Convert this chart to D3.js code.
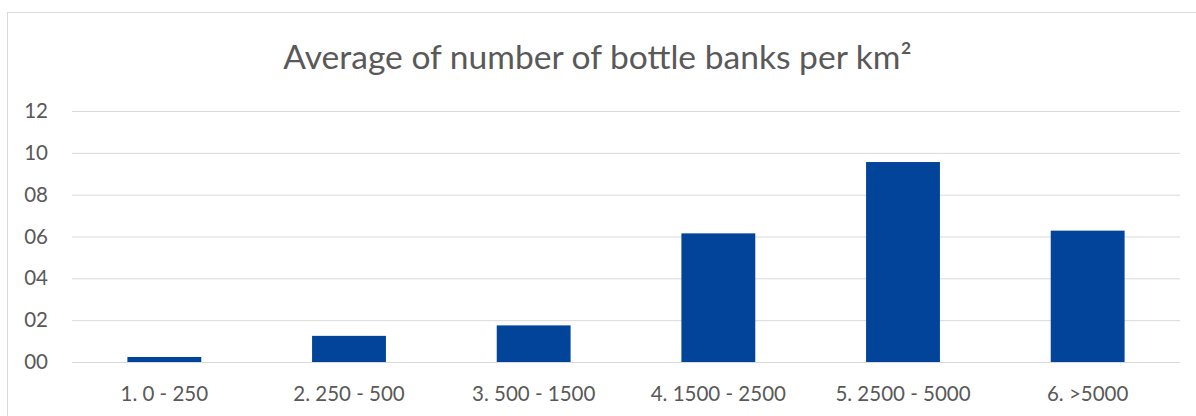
<!DOCTYPE html>
<html>
<head>
<meta charset="utf-8">
<script src="https://cdn.jsdelivr.net/npm/d3@7/dist/d3.min.js"></script>
<style>
  html, body { margin: 0; padding: 0; background: #ffffff; }
  svg { display: block; }
  text { font-family: Lato, "Open Sans", sans-serif; fill: #595959; }
</style>
</head>
<body>
<svg id="chart" width="1196" height="416"></svg>
<script>
const title = "Average of number of bottle banks per km²";
const categories = ["1. 0 - 250", "2. 250 - 500", "3. 500 - 1500", "4. 1500 - 2500", "5. 2500 - 5000", "6. >5000"];
const values = [0.24, 1.25, 1.75, 6.15, 9.56, 6.28];
const yTicks = [0, 2, 4, 6, 8, 10, 12];

const W = 1196, H = 416;
const plot = { left: 72, right: 1180, top: 111, bottom: 362 };

const svg = d3.select("#chart");

// outer chart-area border
svg.append("rect")
  .attr("x", 7.5).attr("y", 12.5)
  .attr("width", W + 10).attr("height", H + 10)
  .attr("fill", "#ffffff")
  .attr("stroke", "#d9d9d9").attr("stroke-width", 1);

const x = d3.scaleBand()
  .domain(categories)
  .range([plot.left, plot.right])
  .paddingInner(0.6)
  .paddingOuter(0.3);

const y = d3.scaleLinear()
  .domain([0, 12])
  .range([plot.bottom, plot.top]);

// gridlines + y labels
const yAxis = d3.axisLeft(y)
  .tickValues(yTicks)
  .tickFormat(d3.format("02d"))
  .tickSize(-(plot.right - plot.left))
  .tickPadding(24);

const gy = svg.append("g")
  .attr("transform", `translate(${plot.left},0)`)
  .call(yAxis);
gy.select(".domain").remove();
gy.selectAll(".tick line").attr("stroke", "#d9d9d9").attr("stroke-width", 1);
gy.selectAll(".tick text")
  .style("font-size", "20.5px")
  .attr("fill", "#595959");

// bars
svg.append("g").selectAll("rect")
  .data(values)
  .join("rect")
  .attr("x", (d, i) => x(categories[i]))
  .attr("width", x.bandwidth())
  .attr("y", d => y(d))
  .attr("height", d => y(0) - y(d))
  .attr("fill", "#02449a");

// x axis labels
const xAxis = d3.axisBottom(x).tickSize(0).tickPadding(24);
const gx = svg.append("g")
  .attr("transform", `translate(0,${plot.bottom})`)
  .call(xAxis);
gx.select(".domain").remove();
gx.selectAll(".tick text")
  .style("font-size", "20.5px")
  .attr("fill", "#595959");

// title
svg.append("text")
  .attr("x", 597.5)
  .attr("y", 69)
  .attr("text-anchor", "middle")
  .style("font-size", "33.6px")
  .text(title);
</script>
</body>
</html>
